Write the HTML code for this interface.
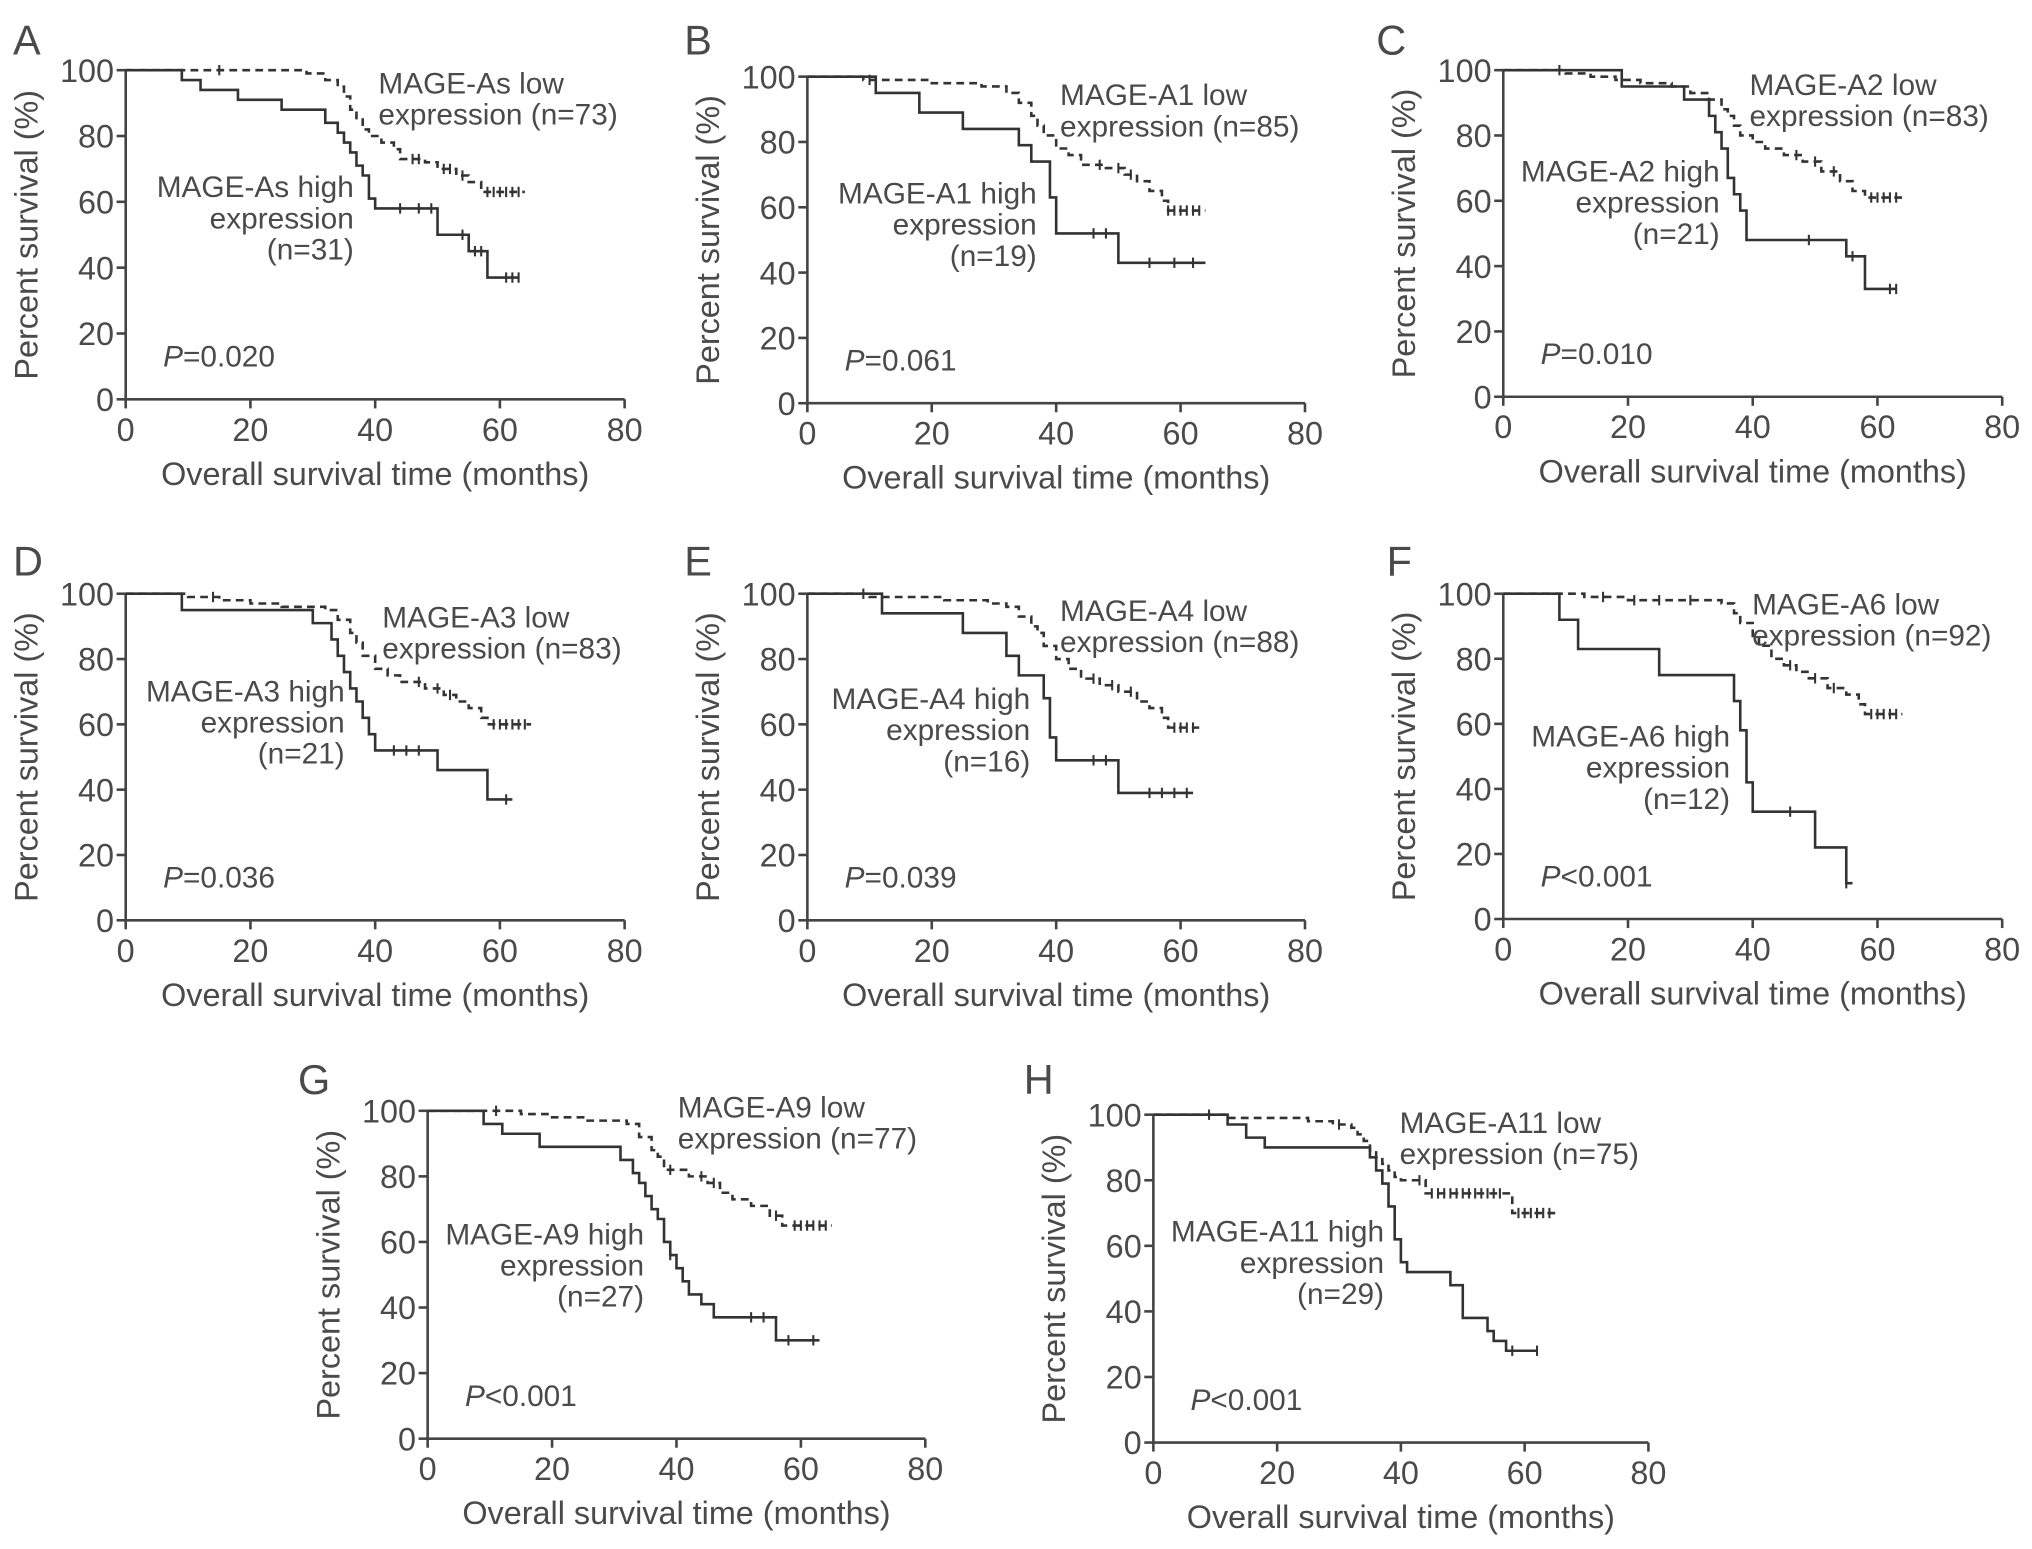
<!DOCTYPE html>
<html><head><meta charset="utf-8"><style>
html,body{margin:0;padding:0;background:#fff;}
svg{display:block;}
text{font-family:"Liberation Sans",Arial,sans-serif;fill:#4a4a4a;}
</style></head><body>
<svg id="fig" width="2032" height="1549" viewBox="0 0 1568 1195" xmlns="http://www.w3.org/2000/svg"></svg>
<script>
// Panel A
const aLowT=[29,32,34,35,36,37,38,39,41,43,44,48,50,53,55,57], aLowS=[99,97,95,92,88,85,82,80,78,76,73,72,70,68,66,63], aLowC=[15,46,47,51,52,54,58,59,60,61,62,63], aLowEnd=64;
const aHighT=[9,12,18,25,32,34,35,36,37,38,39,40,50,55,58], aHighS=[97,94,91,88,84,81,78,75,71,68,61,58,50,45,37], aHighC=[44,47,49,54,56,57,61,62,63], aHighEnd=63;
// Panel B
const bLowT=[9,20,28,32,34,36,37,38,40,42,44,48,51,53,55,57,58], bLowS=[99,98,97,95,92,88,85,82,78,76,73,72,70,68,65,62,59], bLowC=[10,47,50,52,58,59,60,61,62,63], bLowEnd=64;
const bHighT=[11,18,25,34,36,39,40,50], bHighS=[95,89,84,79,74,63,52,43], bHighC=[46,48,55,59,62], bHighEnd=64;
// Panel C
const cLowT=[10,14,18,22,27,30,33,35,36,37,38,40,42,45,48,51,54,56,58], cLowS=[99,98,97,96,95,93,91,88,86,83,80,78,76,74,72,69,66,63,61], cLowC=[9,47,50,53,59,60,61,62,63], cLowEnd=64;
const cHighT=[19,29,33,34,35,36,37,38,39,55,58], cHighS=[95,91,86,81,76,67,62,57,48,43,33], cHighC=[49,56,62,63], cHighEnd=63;
// Panel D
const dLowT=[10,15,20,25,32,34,36,37,38,40,42,44,48,51,53,55,57,58], dLowS=[99,98,97,96,95,92,88,85,81,77,75,73,71,69,67,65,62,60], dLowC=[14,47,50,52,59,60,61,62,63,64], dLowEnd=65;
const dHighT=[9,30,33,34,35,36,37,38,39,40,50,58], dHighS=[95,91,86,81,76,71,67,62,57,52,46,37], dHighC=[43,45,47,61], dHighEnd=62;
// Panel E
const eLowT=[10,22,29,32,34,36,37,38,40,42,44,47,50,53,55,57,58], eLowS=[99,98,97,96,93,90,88,84,80,77,74,72,70,67,65,62,59], eLowC=[9,46,49,52,59,60,61,62], eLowEnd=63;
const eHighT=[12,25,32,34,38,39,40,50], eHighS=[94,88,81,75,68,56,49,39], eHighC=[46,48,55,57,59,61], eHighEnd=62;
// Panel F
const fLowT=[13,20,35,37,38,40,41,43,45,47,49,52,55,57,58], fLowS=[99,98,97,94,91,87,84,80,78,76,74,71,69,66,63], fLowC=[16,21,25,30,46,50,53,59,60,61,62,63], fLowEnd=64;
const fHighT=[9,12,25,37,38,39,40,50,55], fHighS=[92,83,75,67,58,42,33,22,11], fHighC=[46,55], fHighEnd=56;
// Panel G
const gLowT=[15,20,25,32,34,36,37,38,42,45,47,49,52,55,57], gLowS=[99,98,97,96,92,88,86,82,80,78,75,73,71,68,65], gLowC=[11,39,44,46,56,59,60,61,62,63,64], gLowEnd=65;
const gHighT=[9,12,18,31,33,34,35,36,37,38,39,40,41,42,44,46,56], gHighS=[96,93,89,85,81,78,74,70,67,60,56,52,48,44,41,37,30], gHighC=[39,52,54,58,62], gHighEnd=63;
// Panel H
const hLowT=[12,25,29,32,33,34,35,36,37,38,39,40,44,58], hLowS=[99,98,97,96,94,92,89,87,85,83,81,80,76,70], hLowC=[9,30,43,45,46,47,48,49,50,51,52,53,54,55,56,59,60,61,62,63,64], hLowEnd=65;
const hHighT=[12,15,18,35,36,37,38,39,40,41,48,50,54,55,57], hHighS=[97,93,90,87,83,79,72,62,55,52,48,38,34,31,28], hHighC=[58,62], hHighEnd=62;
const xTicks=[0,20,40,60,80], yTicks=[0,20,40,60,80,100];

const panels=[
 {id:'A',x0:97,x1:482,y0:308,y1:54,lab:[10,30],gene:'MAGE-As',nl:73,nh:31,P:'=0.020',lo:[292,72],hi:[273,152],low:[aLowT,aLowS,aLowC,aLowEnd],high:[aHighT,aHighS,aHighC,aHighEnd]},
 {id:'B',x0:623,x1:1007,y0:311,y1:59,lab:[528,30],gene:'MAGE-A1',nl:85,nh:19,P:'=0.061',lo:[818,81],hi:[800,157],low:[bLowT,bLowS,bLowC,bLowEnd],high:[bHighT,bHighS,bHighC,bHighEnd]},
 {id:'C',x0:1160,x1:1545,y0:306,y1:54,lab:[1062,30],gene:'MAGE-A2',nl:83,nh:21,P:'=0.010',lo:[1350,73],hi:[1327,140],low:[cLowT,cLowS,cLowC,cLowEnd],high:[cHighT,cHighS,cHighC,cHighEnd]},
 {id:'D',x0:97,x1:482,y0:710,y1:458,lab:[10,432],gene:'MAGE-A3',nl:83,nh:21,P:'=0.036',lo:[295,484],hi:[266,541],low:[dLowT,dLowS,dLowC,dLowEnd],high:[dHighT,dHighS,dHighC,dHighEnd]},
 {id:'E',x0:623,x1:1007,y0:710,y1:458,lab:[528,432],gene:'MAGE-A4',nl:88,nh:16,P:'=0.039',lo:[818,479],hi:[795,547],low:[eLowT,eLowS,eLowC,eLowEnd],high:[eHighT,eHighS,eHighC,eHighEnd]},
 {id:'F',x0:1160,x1:1545,y0:709,y1:458,lab:[1070,432],gene:'MAGE-A6',nl:92,nh:12,P:'<0.001',lo:[1352,474],hi:[1335,576],low:[fLowT,fLowS,fLowC,fLowEnd],high:[fHighT,fHighS,fHighC,fHighEnd]},
 {id:'G',x0:330,x1:714,y0:1110,y1:857,lab:[230,832],gene:'MAGE-A9',nl:77,nh:27,P:'<0.001',lo:[523,862],hi:[497,960],low:[gLowT,gLowS,gLowC,gLowEnd],high:[gHighT,gHighS,gHighC,gHighEnd]},
 {id:'H',x0:890,x1:1272,y0:1113,y1:860,lab:[790,832],gene:'MAGE-A11',nl:75,nh:29,P:'<0.001',lo:[1080,874],hi:[1068,958],low:[hLowT,hLowS,hLowC,hLowEnd],high:[hHighT,hHighS,hHighC,hHighEnd]}
];
const NS='http://www.w3.org/2000/svg';
const svg=document.getElementById('fig');
function mk(tag,parent,attrs){const e=document.createElementNS(NS,tag);for(const k in attrs)e.setAttribute(k,attrs[k]);parent.appendChild(e);return e;}
function txt(parent,x,y,s,size,anchor,name){const t=mk('text',parent,{x:x,y:y,'font-size':size,'text-anchor':anchor||'start'});t.textContent=s;


return t;}
function survAt(T,S,t){let s=100;for(let i=0;i<T.length;i++){if(T[i]<=t)s=S[i];}return s;}
panels.forEach(p=>{
 const g=mk('g',svg,{});
 
 
 const X=v=>p.x0+(p.x1-p.x0)*v/80, Y=v=>p.y0+(p.y1-p.y0)*v/100;
 txt(g,p.lab[0],p.lab[1]+12,p.id,32,'start','panel-label');
 const ax=mk('path',g,{d:`M${X(0)} ${Y(100)} V${Y(0)} H${X(80)}`,stroke:'#444','stroke-width':2,fill:'none'});
 
 
 xTicks.forEach(v=>{const l=mk('line',g,{x1:X(v),x2:X(v),y1:Y(0),y2:Y(0)+7,stroke:'#444','stroke-width':2});
  
  
  txt(g,X(v),Y(0)+32,String(v),25,'middle','x-tick-label');});
 yTicks.forEach(v=>{const l=mk('line',g,{x1:X(0)-7,x2:X(0),y1:Y(v),y2:Y(v),stroke:'#444','stroke-width':2});
  
  
  txt(g,X(0)-9,Y(v)+9,String(v),25,'end','y-tick-label');});
 txt(g,(X(0)+X(80))/2,Y(0)+66,'Overall survival time (months)',25,'middle','x-axis-title');
 const yt=txt(g,0,0,'Percent survival (%)',25,'middle','y-axis-title');
 yt.setAttribute('transform',`translate(${X(0)-68},${(Y(0)+Y(100))/2}) rotate(-90)`);
 const pt=mk('text',g,{x:X(6),y:Y(10),'font-size':23});
 
 
 const pi=mk('tspan',pt,{'font-style':'italic'});pi.textContent='P';
 const pr=mk('tspan',pt,{});pr.textContent=p.P;
 [['low',p.low,'6,4'],['high',p.high,null]].forEach(([nm,arr,dash])=>{
  const [T,S,C,end]=arr;let d=`M${X(0)} ${Y(100)}`;
  for(let i=0;i<T.length;i++){d+=` H${X(T[i])} V${Y(S[i])}`;}
  d+=` H${X(end)}`;
  const a={d:d,stroke:'#333','stroke-width':2,fill:'none'};if(dash)a['stroke-dasharray']=dash;
  const path=mk('path',g,a);
  
  
  C.forEach(t=>{const yy=Y(survAt(T,S,t));const c=mk('line',g,{x1:X(t),x2:X(t),y1:yy-4,y2:yy+4,stroke:'#333','stroke-width':1.6});
   
   });
 });
 txt(g,p.lo[0],p.lo[1],p.gene+' low',23,'start','low-label');
 txt(g,p.lo[0],p.lo[1]+24,'expression (n='+p.nl+')',23,'start','low-label');
 txt(g,p.hi[0],p.hi[1],p.gene+' high',23,'end','high-label');
 txt(g,p.hi[0],p.hi[1]+24,'expression',23,'end','high-label');
 txt(g,p.hi[0],p.hi[1]+48,'(n='+p.nh+')',23,'end','high-label');
});
</script>
</body></html>
